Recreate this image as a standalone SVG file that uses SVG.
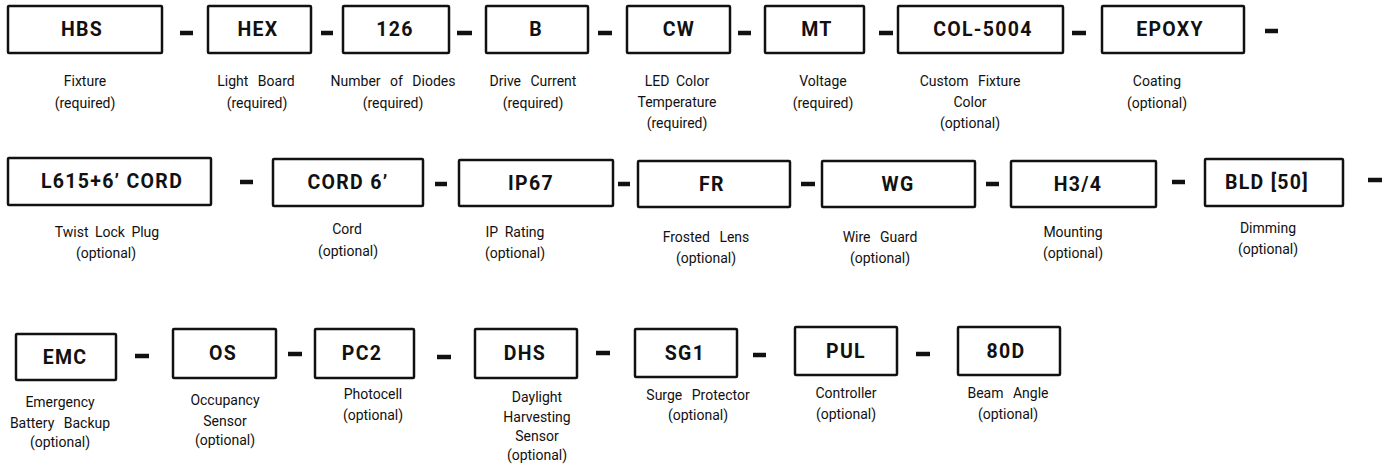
<svg xmlns="http://www.w3.org/2000/svg" width="1386" height="468" viewBox="0 0 1386 468">
<style>
.box{fill:#fff;stroke:#111;stroke-width:2.5}
.code{font-family:Roboto,"Liberation Sans",sans-serif;font-weight:bold;font-size:19.5px;letter-spacing:1.3px;fill:#111;text-anchor:middle}
.lbl{font-family:Roboto,"Liberation Sans",sans-serif;font-size:14px;fill:#111;text-anchor:middle;word-spacing:3px}
.wide{word-spacing:6px}
.dash{stroke:#111;stroke-width:4.5}
</style>
<rect width="1386" height="468" fill="#fff"/>
<g id="n-hbs"><rect class="box" x="8" y="6" width="154" height="47" rx="1"/><text class="code" x="82" y="36">HBS</text><text class="lbl" x="85" y="86">Fixture</text><text class="lbl" x="85" y="108">(required)</text></g>
<g id="n-hex"><rect class="box" x="208" y="6" width="103" height="47" rx="1"/><text class="code" x="258" y="36">HEX</text><text class="lbl wide" x="256" y="86">Light Board</text><text class="lbl" x="257" y="108">(required)</text></g>
<g id="n-126"><rect class="box" x="343" y="6" width="106" height="47" rx="1"/><text class="code" x="395" y="36">126</text><text class="lbl wide" x="393" y="86">Number of Diodes</text><text class="lbl" x="393" y="108">(required)</text></g>
<g id="n-b"><rect class="box" x="486" y="6" width="102" height="47" rx="1"/><text class="code" x="536" y="36">B</text><text class="lbl wide" x="533" y="86">Drive Current</text><text class="lbl" x="533" y="108">(required)</text></g>
<g id="n-cw"><rect class="box" x="627" y="6" width="103" height="47" rx="1"/><text class="code" x="679" y="36">CW</text><text class="lbl" x="677" y="86">LED Color</text><text class="lbl" x="677" y="107">Temperature</text><text class="lbl" x="677" y="128">(required)</text></g>
<g id="n-mt"><rect class="box" x="765" y="6" width="99" height="47" rx="1"/><text class="code" x="817" y="36">MT</text><text class="lbl" x="823" y="86">Voltage</text><text class="lbl" x="823" y="108">(required)</text></g>
<g id="n-col"><rect class="box" x="898" y="6" width="165" height="47" rx="1"/><text class="code" x="983" y="36">COL-5004</text><text class="lbl wide" x="970" y="86">Custom Fixture</text><text class="lbl" x="970" y="107">Color</text><text class="lbl" x="970" y="128">(optional)</text></g>
<g id="n-epoxy"><rect class="box" x="1102" y="6" width="142" height="47" rx="1"/><text class="code" x="1170" y="36">EPOXY</text><text class="lbl" x="1157" y="86">Coating</text><text class="lbl" x="1157" y="108">(optional)</text></g>

<g id="n-l615"><rect class="box" x="8" y="158" width="203" height="47" rx="1"/><text class="code" x="112" y="188">L615+6’ CORD</text><text class="lbl" x="107" y="237">Twist Lock Plug</text><text class="lbl" x="106" y="258">(optional)</text></g>
<g id="n-cord"><rect class="box" x="273" y="159" width="150" height="47" rx="1"/><text class="code" x="348" y="189">CORD 6’</text><text class="lbl" x="347" y="234">Cord</text><text class="lbl" x="348" y="256">(optional)</text></g>
<g id="n-ip67"><rect class="box" x="459" y="160" width="154" height="46" rx="1"/><text class="code" x="531" y="190">IP67</text><text class="lbl" x="515" y="237">IP Rating</text><text class="lbl" x="515" y="258">(optional)</text></g>
<g id="n-fr"><rect class="box" x="638" y="161" width="152" height="46" rx="1"/><text class="code" x="712" y="191">FR</text><text class="lbl wide" x="706" y="242">Frosted Lens</text><text class="lbl" x="706" y="263">(optional)</text></g>
<g id="n-wg"><rect class="box" x="822" y="161" width="153" height="46" rx="1"/><text class="code" x="898" y="191">WG</text><text class="lbl wide" x="880" y="242">Wire Guard</text><text class="lbl" x="880" y="263">(optional)</text></g>
<g id="n-h34"><rect class="box" x="1011" y="161" width="145" height="46" rx="1"/><text class="code" x="1078" y="191">H3/4</text><text class="lbl" x="1073" y="237">Mounting</text><text class="lbl" x="1073" y="258">(optional)</text></g>
<g id="n-bld"><rect class="box" x="1205" y="159" width="138" height="47" rx="1"/><text class="code" x="1267" y="189">BLD [50]</text><text class="lbl" x="1268" y="233">Dimming</text><text class="lbl" x="1268" y="254">(optional)</text></g>

<g id="n-emc"><rect class="box" x="16" y="334" width="100" height="46" rx="1"/><text class="code" x="65" y="364">EMC</text><text class="lbl" x="60" y="407">Emergency</text><text class="lbl wide" x="60" y="428">Battery Backup</text><text class="lbl" x="60" y="447">(optional)</text></g>
<g id="n-os"><rect class="box" x="173" y="329" width="103" height="49" rx="1"/><text class="code" x="223" y="360">OS</text><text class="lbl" x="225" y="405">Occupancy</text><text class="lbl" x="225" y="426">Sensor</text><text class="lbl" x="225" y="445">(optional)</text></g>
<g id="n-pc2"><rect class="box" x="315" y="329" width="99" height="49" rx="1"/><text class="code" x="362" y="360">PC2</text><text class="lbl" x="373" y="399">Photocell</text><text class="lbl" x="373" y="420">(optional)</text></g>
<g id="n-dhs"><rect class="box" x="475" y="329" width="102" height="49" rx="1"/><text class="code" x="525" y="360">DHS</text><text class="lbl" x="537" y="402">Daylight</text><text class="lbl" x="537" y="422">Harvesting</text><text class="lbl" x="537" y="441">Sensor</text><text class="lbl" x="537" y="460">(optional)</text></g>
<g id="n-sg1"><rect class="box" x="635" y="329" width="102" height="48" rx="1"/><text class="code" x="685" y="360">SG1</text><text class="lbl wide" x="698" y="400">Surge Protector</text><text class="lbl" x="698" y="420">(optional)</text></g>
<g id="n-pul"><rect class="box" x="795" y="327" width="102" height="48" rx="1"/><text class="code" x="846" y="358">PUL</text><text class="lbl" x="846" y="398">Controller</text><text class="lbl" x="846" y="419">(optional)</text></g>
<g id="n-80d"><rect class="box" x="958" y="327" width="102" height="48" rx="1"/><text class="code" x="1006" y="358">80D</text><text class="lbl wide" x="1008" y="398">Beam Angle</text><text class="lbl" x="1008" y="419">(optional)</text></g>

<g id="connectors">
<line class="dash" x1="180" y1="33" x2="193" y2="33"/>
<line class="dash" x1="321" y1="33" x2="333" y2="33"/>
<line class="dash" x1="457" y1="33" x2="472" y2="33"/>
<line class="dash" x1="598" y1="33" x2="612" y2="33"/>
<line class="dash" x1="738" y1="33" x2="751" y2="33"/>
<line class="dash" x1="879" y1="33" x2="893" y2="33"/>
<line class="dash" x1="1072" y1="33" x2="1086" y2="33"/>
<line class="dash" x1="1265" y1="31" x2="1278" y2="31"/>
<line class="dash" x1="240" y1="182" x2="253" y2="182"/>
<line class="dash" x1="435" y1="184" x2="447" y2="184"/>
<line class="dash" x1="618" y1="184" x2="630" y2="184"/>
<line class="dash" x1="801" y1="184" x2="815" y2="184"/>
<line class="dash" x1="986" y1="184" x2="999" y2="184"/>
<line class="dash" x1="1172" y1="182" x2="1185" y2="182"/>
<line class="dash" x1="1368" y1="180" x2="1382" y2="180"/>
<line class="dash" x1="135" y1="356" x2="149" y2="356"/>
<line class="dash" x1="288" y1="354" x2="302" y2="354"/>
<line class="dash" x1="437" y1="357" x2="451" y2="357"/>
<line class="dash" x1="596" y1="353" x2="610" y2="353"/>
<line class="dash" x1="753" y1="355" x2="766" y2="355"/>
<line class="dash" x1="916" y1="354" x2="930" y2="354"/>
</g>
</svg>
